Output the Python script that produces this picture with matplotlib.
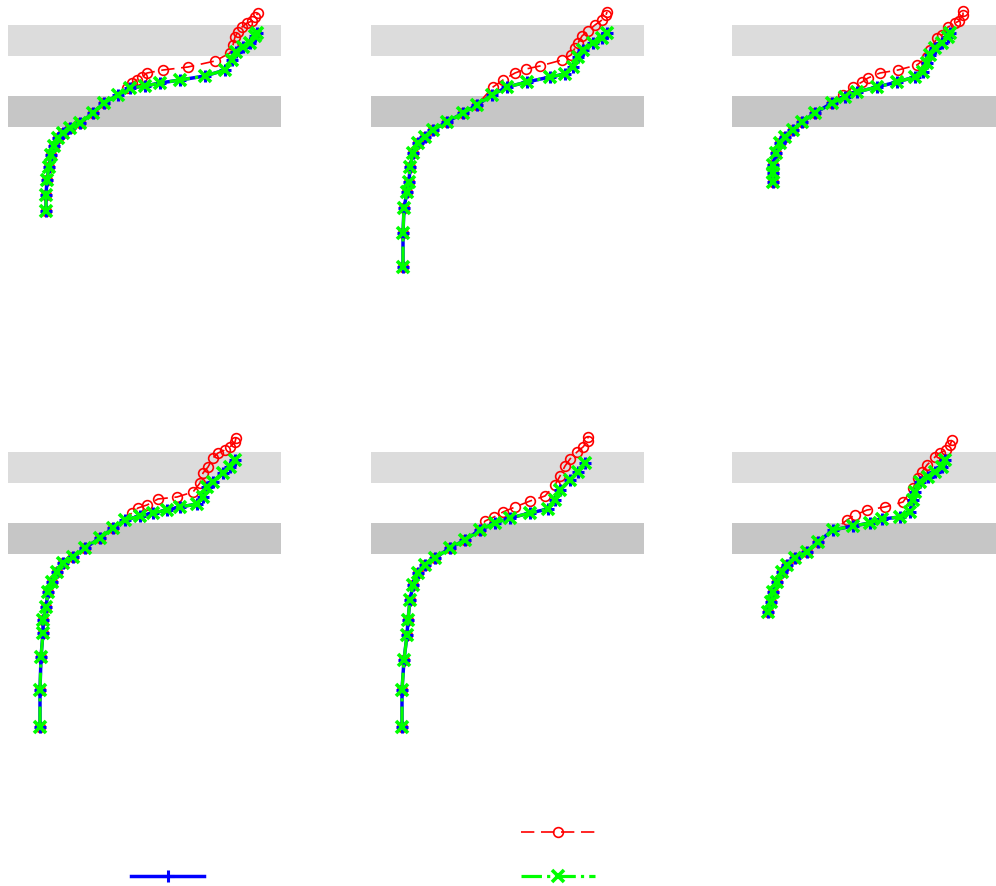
import matplotlib
matplotlib.use("Agg")
import matplotlib.pyplot as plt
from matplotlib.lines import Line2D

# temperature-like x values and height-like y values, one pair per panel
# top row
g1x = [3.8, 3.8, 3.9, 4.1, 4.3, 4.6, 5.0, 5.5, 6.2, 7.2, 8.5, 9.6, 11.0, 12.2, 13.7, 15.2, 17.2, 19.7, 21.7, 22.4, 22.8, 23.5, 24.2, 24.7, 24.9]
g1y = [8.9, 10.5, 12.0, 13.3, 14.5, 15.4, 16.2, 16.7, 17.2, 17.7, 18.7, 19.7, 20.5, 21.2, 21.4, 21.7, 22.0, 22.4, 23.0, 24.0, 24.8, 25.3, 25.7, 26.4, 26.7]
r1x = [11.9, 12.4, 12.9, 13.4, 13.9, 15.5, 18.0, 20.7, 22.2, 22.5, 22.7, 23.0, 23.4, 23.9, 24.4, 24.7, 25.0]
r1y = [21.2, 21.7, 22.0, 22.3, 22.7, 23.0, 23.3, 23.9, 24.7, 25.5, 26.3, 26.8, 27.3, 27.7, 27.9, 28.3, 28.7]

g2x = [3.2, 3.2, 3.3, 3.6, 3.8, 3.9, 4.2, 4.7, 5.4, 6.2, 7.6, 9.2, 10.6, 12.1, 13.6, 15.6, 17.9, 19.4, 20.2, 20.7, 21.2, 22.2, 23.1, 23.6]
g2y = [3.3, 6.7, 9.2, 10.8, 11.8, 13.3, 14.7, 15.7, 16.3, 17.0, 17.8, 18.7, 19.5, 20.5, 21.3, 21.8, 22.3, 22.6, 23.3, 24.3, 25.0, 25.7, 26.2, 26.7]
r2x = [12.2, 13.2, 14.4, 15.5, 16.9, 19.1, 20.0, 20.4, 20.7, 21.1, 21.7, 22.4, 23.1, 23.5, 23.6]
r2y = [21.3, 22.0, 22.7, 23.1, 23.4, 24.0, 24.5, 25.2, 25.7, 26.4, 26.9, 27.5, 28.0, 28.5, 28.8]

g3x = [4.1, 4.1, 4.1, 4.4, 4.8, 5.3, 6.1, 7.0, 8.3, 10.0, 11.3, 12.5, 14.5, 16.5, 18.3, 19.1, 19.5, 19.8, 20.3, 21.0, 21.6, 21.8]
g3y = [11.8, 12.7, 13.5, 14.7, 15.7, 16.3, 17.0, 17.8, 18.7, 19.7, 20.3, 20.8, 21.3, 21.8, 22.3, 22.8, 23.7, 24.5, 25.2, 25.7, 26.3, 26.7]
r3x = [11.1, 12.1, 13.0, 13.6, 14.8, 16.6, 18.5, 19.5, 19.8, 20.5, 21.0, 21.6, 22.3, 22.7, 23.1, 23.1]
r3y = [20.5, 21.3, 21.8, 22.2, 22.7, 23.0, 23.5, 24.3, 25.0, 26.2, 26.5, 27.3, 27.7, 27.9, 28.5, 28.9]

# bottom row
g4x = [3.2, 3.2, 3.3, 3.5, 3.5, 3.8, 4.0, 4.4, 4.9, 5.5, 6.5, 7.7, 9.2, 10.5, 11.7, 13.2, 14.5, 15.9, 17.2, 18.9, 19.5, 19.9, 20.5, 21.5, 22.2, 22.7]
g4y = [0.0, 3.7, 7.0, 9.4, 10.7, 12.0, 13.5, 14.5, 15.5, 16.4, 17.0, 17.9, 18.9, 19.9, 20.7, 21.1, 21.4, 21.7, 22.0, 22.3, 23.0, 24.0, 24.5, 25.4, 26.0, 26.7]
r4x = [12.4, 13.0, 13.9, 15.0, 16.9, 18.5, 19.2, 19.5, 20.0, 20.5, 21.0, 21.7, 22.2, 22.7, 22.8]
r4y = [21.4, 21.9, 22.2, 22.8, 23.0, 23.5, 24.4, 25.4, 26.0, 26.9, 27.4, 27.7, 28.0, 28.5, 28.9]

g5x = [3.1, 3.1, 3.3, 3.6, 3.7, 3.9, 4.2, 4.7, 5.4, 6.4, 7.9, 9.4, 10.9, 12.4, 13.9, 15.9, 17.7, 18.4, 18.9, 19.9, 20.7, 21.4]
g5y = [0.0, 3.7, 6.7, 9.2, 10.7, 12.7, 14.2, 15.4, 16.2, 16.9, 17.9, 18.7, 19.7, 20.4, 20.9, 21.4, 21.8, 22.7, 23.7, 24.7, 25.5, 26.4]
r5x = [11.4, 12.3, 13.2, 14.4, 15.9, 17.4, 18.4, 18.9, 19.4, 19.9, 20.6, 21.2, 21.7, 21.7]
r5y = [20.6, 21.0, 21.5, 22.0, 22.6, 23.1, 24.2, 25.1, 26.1, 26.8, 27.5, 28.0, 28.6, 29.0]

g6x = [3.6, 3.9, 4.1, 4.5, 5.0, 5.5, 6.3, 7.5, 8.6, 10.1, 12.1, 13.8, 15.0, 16.8, 17.8, 18.1, 18.3, 18.8, 19.6, 20.3, 21.0, 21.3]
g6y = [11.5, 12.5, 13.5, 14.5, 15.5, 16.2, 16.9, 17.5, 18.5, 19.7, 20.1, 20.4, 20.8, 21.0, 21.5, 22.7, 23.5, 24.5, 25.0, 25.5, 26.0, 26.7]
r6x = [11.5, 12.3, 13.5, 15.3, 17.1, 18.1, 18.6, 19.0, 19.5, 20.3, 20.8, 21.4, 21.8, 22.0]
r6y = [20.7, 21.2, 21.7, 22.0, 22.5, 23.9, 24.9, 25.5, 26.2, 27.0, 27.4, 27.7, 28.2, 28.7]

# how many of the lower points the red profile shares with the others
shared = [12, 13, 10, 14, 13, 9]

greens = [(g1x, g1y), (g2x, g2y), (g3x, g3y), (g4x, g4y), (g5x, g5y), (g6x, g6y)]
reds = [(r1x, r1y), (r2x, r2y), (r3x, r3y), (r4x, r4y), (r5x, r5y), (r6x, r6y)]

# the two shaded layers
band_light = (24.4, 27.5)
band_dark = (17.3, 20.4)

labels = ["Radiosonde profile (reference)", "Model run with new scheme",
          "Model run, old scheme (control)", "Model run, new scheme + nudging"]
xlab = "Temperature [K]"

W, H = 996, 886
fig = plt.figure(figsize=(W / 100, H / 100), dpi=100)

red_style = dict(color="red", ls=(0, (8, 4)), lw=1.2, marker="o", ms=7, mfc="none", mew=1.2)
blue_style = dict(color="blue", ls="-", lw=2.5, marker="+", ms=8, mew=2.2)
green_style = dict(color="#00ff00", ls="-.", lw=2.3, marker="x", ms=8, mew=2.6)

lefts = [8, 371, 732]
tops = [0, 427]
for i in range(6):
    row, col = divmod(i, 3)
    ax = fig.add_axes([lefts[col] / W, 1 - (tops[row] + 330) / H, 273 / W, 330 / H])
    ax.set_xlim(0, 27.3)
    ax.set_ylim(-3, 30)
    ax.axhspan(*band_light, color="#dcdcdc", lw=0, zorder=0)
    ax.axhspan(*band_dark, color="#c6c6c6", lw=0, zorder=0)
    gx, gy = greens[i]
    rx, ry = reds[i]
    k = shared[i]
    ax.plot(gx[:k] + rx, gy[:k] + ry, zorder=2, **red_style)
    ax.plot(gx, gy, zorder=3, **blue_style)
    ax.plot(gx, gy, zorder=4, **green_style)
    ax.axis("off")
    ax.text(0.5, -0.1, xlab, transform=ax.transAxes, ha="center", va="center",
            color="white", fontsize=13)

h_white = Line2D([], [], color="white", lw=1.2)
h_blue = Line2D([], [], **blue_style)
h_red = Line2D([], [], **red_style)
h_green = Line2D([], [], **green_style)
leg = fig.legend([h_white, h_blue, h_red, h_green],
                 [labels[0], labels[1], labels[2], labels[3]],
                 ncol=2, loc="center", bbox_to_anchor=(0.504, 1 - 855 / H),
                 frameon=False, fontsize=11, handlelength=4.8, handletextpad=0.7,
                 columnspacing=4.8, labelspacing=1.9)
for t in leg.get_texts():
    t.set_color("white")

fig.savefig("out.png", dpi=100, facecolor="white")
